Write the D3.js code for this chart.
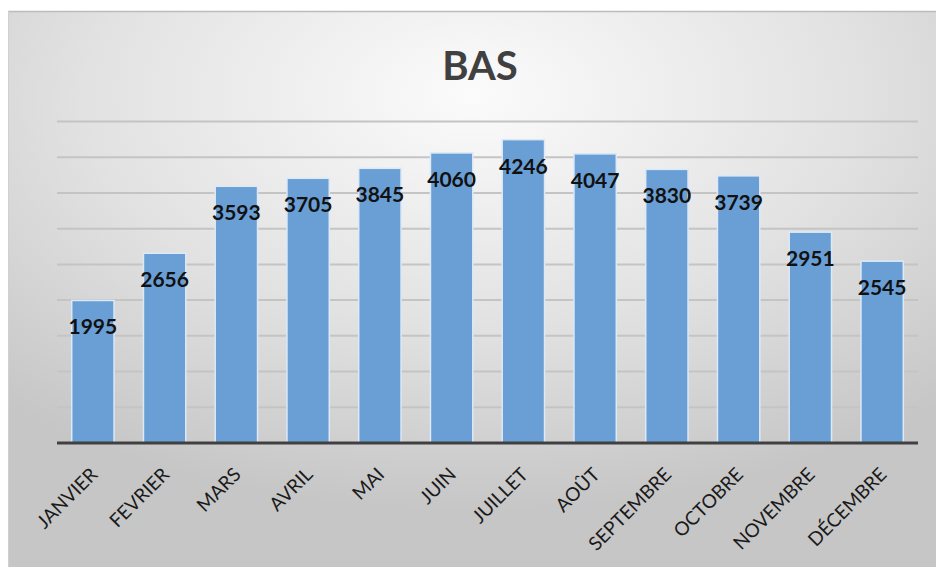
<!DOCTYPE html>
<html>
<head>
<meta charset="utf-8">
<script src="https://cdn.jsdelivr.net/npm/d3@7"></script>
<style>
  body { margin: 0; background: #fff; }
  svg { display: block; font-family: Lato, "Open Sans", sans-serif; }
</style>
</head>
<body>
<script>
// data
const months = ['JANVIER', 'FEVRIER', 'MARS', 'AVRIL', 'MAI', 'JUIN', 'JUILLET', 'AOÛT', 'SEPTEMBRE', 'OCTOBRE', 'NOVEMBRE', 'DÉCEMBRE'];
const values = [1995, 2656, 3593, 3705, 3845, 4060, 4246, 4047, 3830, 3739, 2951, 2545];
const gridTicks = [0, 500, 1000, 1500, 2000, 2500, 3000, 3500, 4000, 4500];
const title = 'BAS';

const W = 936, H = 567;
const plot = { left: 57, right: 918, top: 121.5, bottom: 443 };

const svg = d3.select('body').append('svg')
  .attr('width', W)
  .attr('height', H);

const defs = svg.append('defs');
const grad = defs.append('radialGradient')
  .attr('id', 'bg')
  .attr('cx', '50%').attr('cy', '15%').attr('r', '75%');
grad.append('stop').attr('offset', '0%').attr('stop-color', '#fbfbfb');
grad.append('stop').attr('offset', '55%').attr('stop-color', '#e2e2e2');
grad.append('stop').attr('offset', '100%').attr('stop-color', '#c6c6c6');

// chart frame
svg.append('rect')
  .attr('x', 8).attr('y', 11)
  .attr('width', W - 8).attr('height', H - 11)
  .attr('fill', 'url(#bg)');
svg.append('line')
  .attr('x1', 8).attr('x2', W).attr('y1', 11.5).attr('y2', 11.5)
  .attr('stroke', '#bcbcbc').attr('stroke-width', 1.5);
svg.append('line')
  .attr('x1', 8.5).attr('x2', 8.5).attr('y1', 11).attr('y2', H)
  .attr('stroke', '#d0d0d0').attr('stroke-width', 1);

svg.append('text')
  .attr('x', 480).attr('y', 80)
  .attr('text-anchor', 'middle')
  .attr('font-size', 40)
  .attr('font-weight', 700)
  .attr('fill', '#404040')
  .text(title);

const x = d3.scaleBand()
  .domain(months)
  .range([plot.left, plot.right])
  .paddingInner(0.41)
  .paddingOuter(0.205);

const y = d3.scaleLinear()
  .domain([0, 4500])
  .range([plot.bottom, plot.top]);

// gridlines
svg.append('g')
  .selectAll('line')
  .data(gridTicks.slice(1))
  .join('line')
  .attr('x1', plot.left).attr('x2', plot.right)
  .attr('y1', d => y(d)).attr('y2', d => y(d))
  .attr('stroke', '#c4c4c4')
  .attr('stroke-width', 2);

// bars
svg.append('g')
  .selectAll('rect')
  .data(values)
  .join('rect')
  .attr('x', (d, i) => x(months[i]))
  .attr('y', d => y(d))
  .attr('width', x.bandwidth())
  .attr('height', d => y(0) - y(d))
  .attr('fill', '#6a9fd6')
  .attr('stroke', '#dce9f6')
  .attr('stroke-width', 1.5);

// data labels
svg.append('g')
  .selectAll('text')
  .data(values)
  .join('text')
  .attr('x', (d, i) => x(months[i]) + x.bandwidth() / 2)
  .attr('y', d => y(d) + 34)
  .attr('text-anchor', 'middle')
  .attr('font-size', 21)
  .attr('font-weight', 700)
  .attr('fill', '#111')
  .text(d => d);

// x axis
const xAxis = svg.append('g')
  .attr('transform', `translate(0,${plot.bottom})`)
  .call(d3.axisBottom(x).tickSize(0).tickPadding(0));
xAxis.select('.domain')
  .attr('stroke', '#404040')
  .attr('stroke-width', 3)
  .attr('d', `M${plot.left},0H${plot.right}`);
xAxis.selectAll('.tick text')
  .attr('font-family', 'Lato, "Open Sans", sans-serif')
  .attr('font-size', 19)
  .attr('fill', '#1a1a1a')
  .attr('text-anchor', 'end')
  .attr('dy', '0.35em')
  .attr('y', 0)
  .attr('transform', 'translate(1,28) rotate(-45)');
</script>
</body>
</html>
